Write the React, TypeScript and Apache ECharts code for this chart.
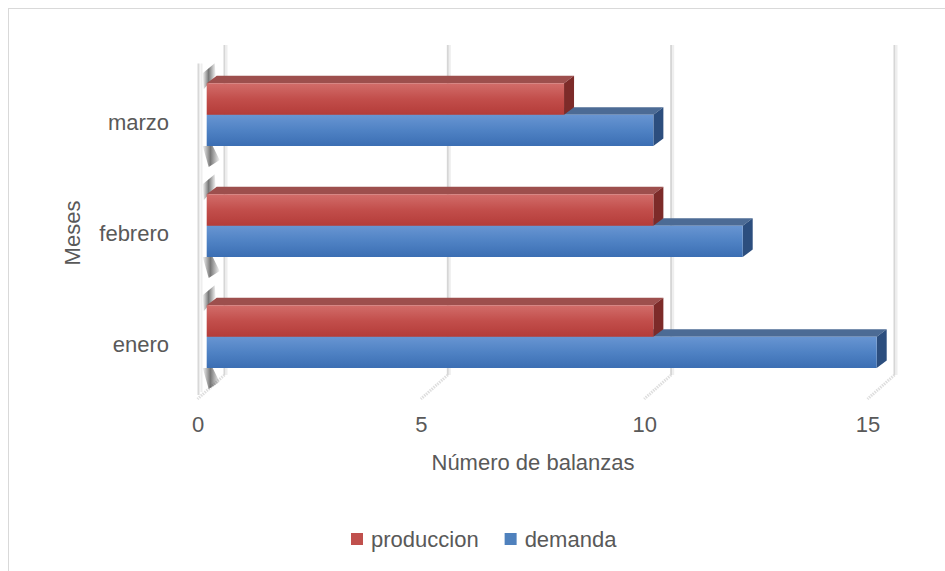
import React, { useEffect, useRef } from "react";
import * as echarts from "echarts";

const categories = ["enero", "febrero", "marzo"];
const produccion = [10, 10, 8];
const demanda = [15, 12, 10];
const xTicks = [0, 5, 10, 15];
const seriesNames = ["produccion", "demanda"];
const xAxisTitle = "Número de balanzas";
const yAxisTitle = "Meses";

const FONT = "'Liberation Sans', Arial, sans-serif";
const TXT = "#595959";

export default function App() {
  const ref = useRef<HTMLDivElement>(null);

  useEffect(() => {
    const chart = echarts.init(ref.current!, null, { renderer: "svg" });
    const DX = 10;
    const DY = -7.5;
    const OFF = 8.7;
    const BAR_H = 31.4;
    const TOP_SHIFT = 38.7;

    const palettes = [
      {
        front: new echarts.graphic.LinearGradient(0, 0, 0, 1, [
          { offset: 0, color: "#d26d6a" },
          { offset: 0.5, color: "#c24e4b" },
          { offset: 1, color: "#b43c39" },
        ]),
        top: "#9d4f4d",
        side: "#7d2b29",
      },
      {
        front: new echarts.graphic.LinearGradient(0, 0, 0, 1, [
          { offset: 0, color: "#6895d2" },
          { offset: 0.5, color: "#4f82c4" },
          { offset: 1, color: "#3b6eb3" },
        ]),
        top: "#4c6b95",
        side: "#2c4e7e",
      },
    ];

    const makeBar = (slot: number) => (params: any, api: any) => {
      const v = api.value(0);
      const c = api.value(1);
      const p0 = api.coord([0, c]);
      const p1 = api.coord([v, c]);
      const x0 = p0[0] + OFF;
      const x1 = p1[0] + OFF;
      const yTop = p0[1] - TOP_SHIFT + slot * BAR_H;
      const yBot = yTop + BAR_H;
      const pal = palettes[slot];
      return {
        type: "group",
        children: [
          {
            type: "polygon",
            shape: {
              points: [
                [x0, yTop],
                [x1, yTop],
                [x1 + DX, yTop + DY],
                [x0 + DX, yTop + DY],
              ],
            },
            style: { fill: pal.top },
          },
          {
            type: "polygon",
            shape: {
              points: [
                [x1, yTop],
                [x1 + DX, yTop + DY],
                [x1 + DX, yBot + DY],
                [x1, yBot],
              ],
            },
            style: { fill: pal.side },
          },
          {
            type: "rect",
            shape: { x: x0, y: yTop, width: x1 - x0, height: BAR_H },
            style: { fill: pal.front },
          },
        ],
      };
    };

    const gridRender = (params: any, api: any) => {
      const v = api.value(0);
      const p = api.coord([v, 0]);
      const cs = params.coordSys;
      const xb = p[0] + 26.5;
      const top = cs.y - 21.5;
      const bottom = cs.y + cs.height - 24.5;
      const children: any[] = [
        {
          type: "line",
          shape: { x1: xb, y1: top, x2: xb, y2: bottom },
          style: { stroke: "#d6d6d6", lineWidth: 2 },
        },
        {
          type: "line",
          shape: { x1: xb + 2, y1: top, x2: xb + 2, y2: bottom },
          style: { stroke: "#eeeeee", lineWidth: 2 },
        },
        {
          type: "line",
          shape: { x1: xb, y1: bottom, x2: xb - 27, y2: bottom + 24 },
          style: { stroke: "#dedede", lineWidth: 3, lineDash: [1.5, 1] },
        },
      ];
      if (v === 0) {
        children.push({
          type: "line",
          shape: { x1: p[0] + 0.5, y1: cs.y - 3, x2: p[0] + 0.5, y2: bottom + 20 },
          style: { stroke: "#d8d8d8", lineWidth: 2 },
        });
        children.push({
          type: "line",
          shape: { x1: p[0] + 3.5, y1: cs.y - 3, x2: p[0] + 3.5, y2: bottom + 17 },
          style: { stroke: "#eeeeee", lineWidth: 2 },
        });
      }
      return { type: "group", children };
    };

    const shadowFill = () =>
      new echarts.graphic.LinearGradient(0, 0, 1, 0, [
        { offset: 0, color: "rgba(60,60,60,0.05)" },
        { offset: 0.45, color: "rgba(60,60,60,0.7)" },
        { offset: 1, color: "rgba(60,60,60,0.05)" },
      ]);

    const shadowRender = (params: any, api: any) => {
      const c = api.value(1);
      const p0 = api.coord([0, c]);
      const x0 = p0[0] + OFF;
      const yFront = p0[1] - TOP_SHIFT;
      const yBot = yFront + 2 * BAR_H;
      return {
        type: "group",
        children: [
          {
            type: "polygon",
            shape: {
              points: [
                [x0 - 4, yFront - 10],
                [x0 + 8, yFront - 20],
                [x0 + 9, yFront - 8],
                [x0 - 3, yFront + 6],
              ],
            },
            style: { fill: shadowFill() },
          },
          {
            type: "polygon",
            shape: {
              points: [
                [x0 - 4, yBot],
                [x0 + 6, yBot],
                [x0 + 13, yBot + 14],
                [x0 + 2, yBot + 21],
              ],
            },
            style: { fill: shadowFill() },
          },
        ],
      };
    };

    chart.setOption({
      animation: false,
      backgroundColor: "#ffffff",
      textStyle: { fontFamily: FONT },
      graphic: [
        {
          type: "line",
          shape: { x1: 8, y1: 8.5, x2: 945, y2: 8.5 },
          style: { stroke: "#d9d9d9", lineWidth: 1 },
          silent: true,
        },
        {
          type: "line",
          shape: { x1: 8.5, y1: 8, x2: 8.5, y2: 571 },
          style: { stroke: "#d9d9d9", lineWidth: 1 },
          silent: true,
        },
      ],
      legend: {
        data: seriesNames,
        left: 351,
        top: 528,
        padding: 0,
        icon: "rect",
        itemWidth: 12,
        itemHeight: 12,
        itemGap: 26,
        textStyle: { fontSize: 22, color: TXT, fontFamily: FONT, padding: [0, 0, 0, 3] },
      },
      grid: { left: 198, width: 670, top: 66.5, height: 333, containLabel: false },
      xAxis: {
        type: "value",
        min: xTicks[0],
        max: xTicks[xTicks.length - 1],
        interval: xTicks[1] - xTicks[0],
        axisLine: { show: false },
        axisTick: { show: false },
        splitLine: { show: false },
        axisLabel: { fontSize: 22, color: TXT, margin: 14, fontFamily: FONT },
        name: xAxisTitle,
        nameLocation: "middle",
        nameGap: 52,
        nameTextStyle: { fontSize: 22, color: TXT, fontFamily: FONT },
      },
      yAxis: {
        type: "category",
        data: categories,
        axisLine: { show: false },
        axisTick: { show: false },
        splitLine: { show: false },
        axisLabel: { fontSize: 22, color: TXT, margin: 29, fontFamily: FONT },
        name: yAxisTitle,
        nameLocation: "middle",
        nameGap: 115,
        nameRotate: 90,
        nameTextStyle: { fontSize: 22, color: TXT, fontFamily: FONT },
      },
      series: [
        {
          type: "custom",
          silent: true,
          z: 1,
          renderItem: gridRender,
          data: xTicks.map((v) => [v, 0]),
          encode: { x: 0, y: 1 },
        },
        {
          type: "custom",
          silent: true,
          z: 2,
          renderItem: shadowRender,
          data: categories.map((_, i) => [0, i]),
          encode: { x: 0, y: 1 },
        },
        {
          type: "custom",
          name: seriesNames[1],
          z: 3,
          itemStyle: { color: "#4f81bd" },
          renderItem: makeBar(1),
          data: demanda.map((v, i) => [v, i]),
          encode: { x: 0, y: 1 },
        },
        {
          type: "custom",
          name: seriesNames[0],
          z: 4,
          itemStyle: { color: "#c0504d" },
          renderItem: makeBar(0),
          data: produccion.map((v, i) => [v, i]),
          encode: { x: 0, y: 1 },
        },
      ],
    });

    return () => chart.dispose();
  }, []);

  return (
    <div
      ref={ref}
      style={{ position: "fixed", left: 0, top: 0, width: 945, height: 571 }}
    />
  );
}
